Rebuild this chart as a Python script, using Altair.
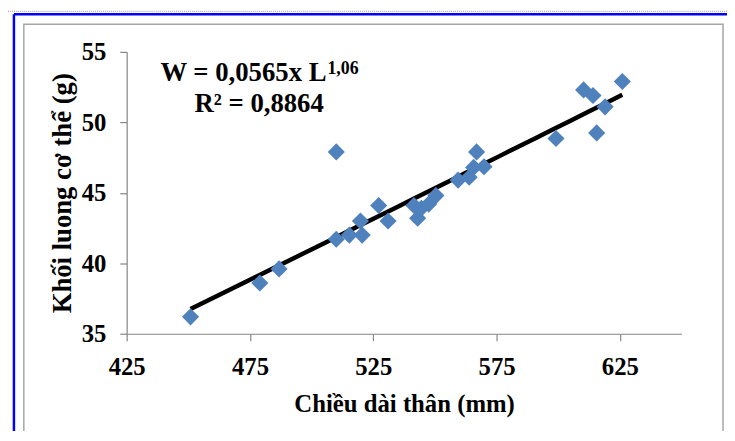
import altair as alt
import pandas as pd

# Body length (mm) and body weight (g)
length_mm = [450.9, 479.0, 486.8, 510.0, 510.0, 515.3, 519.8, 520.5, 527.2, 531.0,
             541.5, 543.0, 544.5, 547.5, 550.4, 559.4, 563.9, 565.7, 566.9, 569.9,
             599.1, 610.3, 614.1, 615.6, 619.0, 626.0]
weight_g = [36.2, 38.6, 39.6, 47.9, 41.7, 42.0, 43.0, 42.0, 44.1, 43.0,
            44.1, 43.2, 43.9, 44.2, 44.8, 45.9, 46.1, 46.8, 47.9, 46.85,
            48.85, 52.3, 51.9, 49.25, 51.1, 52.9]

x_ticks = [425, 475, 525, 575, 625]
y_ticks = [35, 40, 45, 50, 55]
equation = "W = 0,0565x L"
exponent = "1,06"
r2_text = "R² = 0,8864"
x_title = "Chiều dài thân (mm)"
y_title = "Khối luong cơ thể (g)"

df = pd.DataFrame({"L": length_mm, "W": weight_g})

FONT = "Liberation Serif"
W, H = 561, 285

x_enc = alt.X("L:Q", scale=alt.Scale(domain=[425, 650], nice=False, zero=False),
              axis=alt.Axis(values=x_ticks, title=x_title, grid=False, labelFlush=False,
                            labelPadding=14, titlePadding=13, titleFontSize=25))
y_enc = alt.Y("W:Q", scale=alt.Scale(domain=[35, 55], nice=False, zero=False),
              axis=alt.Axis(values=y_ticks, title=y_title, grid=False,
                            labelPadding=14, titlePadding=5, titleFontSize=27))

points = alt.Chart(df).mark_point(
    shape="diamond", filled=True, size=300, color="#4F81BD", opacity=1
).encode(x=x_enc, y=y_enc)

trend = alt.Chart(df).transform_regression(
    "L", "W", method="pow", extent=[min(length_mm), max(length_mm)]
).mark_line(color="black", strokeWidth=4.5).encode(x="L:Q", y="W:Q")

ann = pd.DataFrame({"t": [0]})
eq = alt.Chart(ann).mark_text(
    font=FONT, fontSize=27, fontWeight="bold", align="right", baseline="alphabetic", color="black"
).encode(x=alt.value(202), y=alt.value(29), text=alt.value(equation))
ex = alt.Chart(ann).mark_text(
    font=FONT, fontSize=18, fontWeight="bold", align="left", baseline="alphabetic", color="black"
).encode(x=alt.value(203), y=alt.value(22), text=alt.value(exponent))
r2 = alt.Chart(ann).mark_text(
    font=FONT, fontSize=27, fontWeight="bold", align="center", baseline="alphabetic", color="black"
).encode(x=alt.value(134), y=alt.value(61), text=alt.value(r2_text))

# decorative frame (chart area border and page edges)
frame = alt.Chart(ann).mark_rect(fill=None, stroke="#A6A6A6", strokeWidth=1.5).encode(
    x=alt.value(-104), x2=alt.value(603), y=alt.value(-28), y2=alt.value(386))
blue_left = alt.Chart(ann).mark_rule(color="#0000FF", strokeWidth=2.5).encode(
    x=alt.value(-114), y=alt.value(-38), y2=alt.value(395))
blue_top = alt.Chart(ann).mark_rule(color="#0000FF", strokeWidth=2.5).encode(
    x=alt.value(-114), x2=alt.value(610), y=alt.value(-38))
dotted = alt.Chart(ann).mark_rule(color="#9A9A9A", strokeWidth=1, strokeDash=[1, 1]).encode(
    x=alt.value(-128), x2=alt.value(610), y=alt.value(-41))

chart = alt.layer(frame, blue_left, blue_top, dotted, trend, points, eq, ex, r2).properties(
    width=W, height=H,
    autosize=alt.AutoSizeParams(type="none"),
    padding={"left": 120, "top": 42, "right": 46, "bottom": 96},
).configure_view(stroke=None).configure_axis(
    domainColor="#868686", domainWidth=1.2, tickColor="#868686", tickSize=7, tickWidth=1.2,
    labelFont=FONT, labelFontSize=25, labelFontWeight="bold", labelColor="black",
    titleFont=FONT, titleFontWeight="bold", titleColor="black",
)

chart.save("out.html", embed_options={"renderer": "svg", "actions": False})
